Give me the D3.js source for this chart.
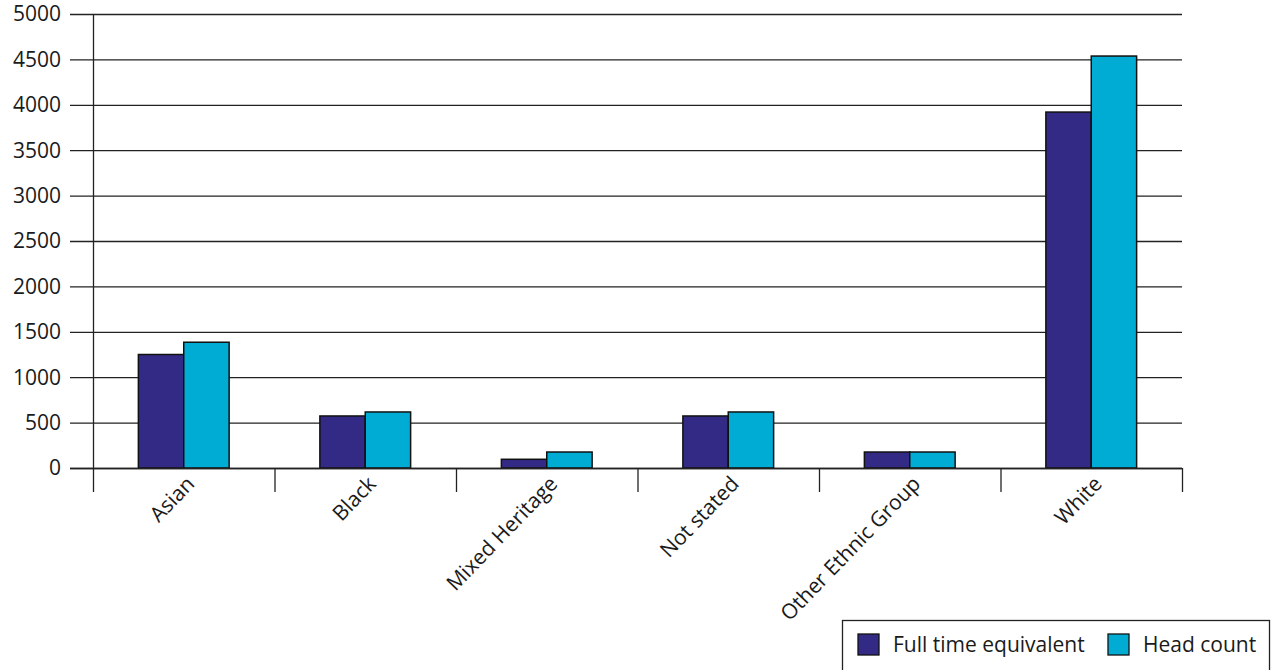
<!DOCTYPE html>
<html><head><meta charset="utf-8">
<script src="https://cdn.jsdelivr.net/npm/d3@7"></script>
<style>body{margin:0;background:#fff}svg{display:block}text{font-family:"Open Sans",sans-serif;fill:#1a1a1a}</style>
</head><body><svg id="c" width="1275" height="670"></svg>
<script>
const categories = ["Asian","Black","Mixed Heritage","Not stated","Other Ethnic Group","White"];
const seriesNames = ["Full time equivalent","Head count"];
const fullTimeEquivalent = [1250, 573, 96, 573, 176, 3920];
const headCount = [1385, 617, 176, 617, 176, 4537];
const yTicks = [0,500,1000,1500,2000,2500,3000,3500,4000,4500,5000];
const colors = ["#332a86","#00abd4"];

const svg = d3.select("#c");
const x0 = 93, x1 = 1182, yTop = 14, yBot = 468;
const x = d3.scaleBand().domain(categories).range([x0, x1]).paddingInner(0).paddingOuter(0);
const y = d3.scaleLinear().domain([0,5000]).range([yBot, yTop]);
const xs = d3.scaleBand().domain(seriesNames).range([0, x.bandwidth()]).paddingInner(0).paddingOuter(1);

// gridlines
svg.append("g").selectAll("line").data(yTicks).join("line")
  .attr("x1", 70).attr("x2", x1).attr("y1", d=>y(d)+0.5).attr("y2", d=>y(d)+0.5)
  .attr("stroke","#222").attr("stroke-width",1.3);

// y labels
svg.append("g").selectAll("text").data(yTicks).join("text")
  .attr("x", 61).attr("y", d=>y(d)).attr("dy","0.35em").attr("text-anchor","end")
  .attr("font-size", 21).text(d=>d);

// bars
const data = categories.map((c,i)=>({c, vals:[fullTimeEquivalent[i], headCount[i]]}));
const g = svg.append("g");
data.forEach(d=>{
  d.vals.forEach((v,j)=>{
    g.append("rect")
      .attr("x", x(d.c)+xs(seriesNames[j]))
      .attr("y", y(v))
      .attr("width", xs.bandwidth())
      .attr("height", y(0)-y(v))
      .attr("fill", colors[j]).attr("stroke","#111").attr("stroke-width",1.5);
  });
});

// axes lines
svg.append("line").attr("x1",x0+0.5).attr("x2",x0+0.5).attr("y1",yTop).attr("y2",492).attr("stroke","#222").attr("stroke-width",1.3);
svg.append("line").attr("x1",70).attr("x2",x1).attr("y1",yBot+0.5).attr("y2",yBot+0.5).attr("stroke","#222").attr("stroke-width",1.5);
const bounds = categories.map(c=>x(c)).concat([x1]);
svg.append("g").selectAll("line").data(bounds.slice(1)).join("line")
  .attr("x1",d=>d+0.5).attr("x2",d=>d+0.5).attr("y1",yBot).attr("y2",492).attr("stroke","#222").attr("stroke-width",1.3);

// category labels
svg.append("g").selectAll("text").data(categories).join("text")
  .attr("transform", c=>`translate(${x(c)+x.bandwidth()/2+12},${485}) rotate(-46)`)
  .attr("text-anchor","end").attr("font-size",21).text(c=>c);

// legend
const lg = svg.append("g");
lg.append("rect").attr("x",842.5).attr("y",620.5).attr("width",427).attr("height",60).attr("fill","#fff").attr("stroke","#222").attr("stroke-width",1.3);
const legX = [858, 1108];
seriesNames.forEach((s,j)=>{
  lg.append("rect").attr("x",legX[j]).attr("y",634).attr("width",21).attr("height",21).attr("fill",colors[j]).attr("stroke","#111").attr("stroke-width",1.3);
  lg.append("text").attr("x",legX[j]+35).attr("y",645).attr("dy","0.35em").attr("font-size",21).text(s);
});
</script></body></html>
